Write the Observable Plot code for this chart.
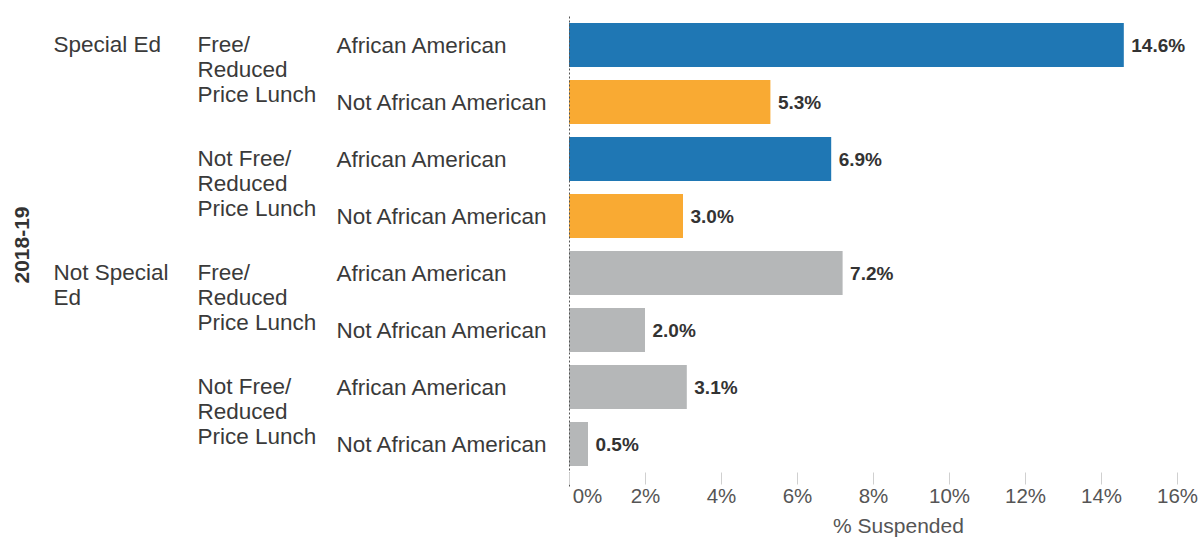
<!DOCTYPE html>
<html>
<head>
<meta charset="utf-8">
<script src="https://cdn.jsdelivr.net/npm/d3@7"></script>
<script src="https://cdn.jsdelivr.net/npm/@observablehq/plot@0.6"></script>
<style>
  html, body { margin: 0; padding: 0; background: #fff; }
  #chart svg { display: block; }
</style>
</head>
<body>
<div id="chart"></div>
<script>
// ---- data ----
const yearLabel = "2018-19";
const specialEd = ["Special Ed", "Special Ed", "Special Ed", "Special Ed",
                   "Not Special Ed", "Not Special Ed", "Not Special Ed", "Not Special Ed"];
const specialEdLabels = ["Special Ed", "Not Special\nEd"];
const lunch = ["Free/Reduced Price Lunch", "Free/Reduced Price Lunch",
               "Not Free/Reduced Price Lunch", "Not Free/Reduced Price Lunch",
               "Free/Reduced Price Lunch", "Free/Reduced Price Lunch",
               "Not Free/Reduced Price Lunch", "Not Free/Reduced Price Lunch"];
const lunchLabels = {
  "Free/Reduced Price Lunch": "Free/\nReduced\nPrice Lunch",
  "Not Free/Reduced Price Lunch": "Not Free/\nReduced\nPrice Lunch"
};
const race = ["African American", "Not African American", "African American", "Not African American",
              "African American", "Not African American", "African American", "Not African American"];
const suspended = [14.6, 5.3, 6.9, 3.0, 7.2, 2.0, 3.1, 0.5];
const xTicks = [0, 2, 4, 6, 8, 10, 12, 14, 16];
const xTickLabels = ["0%", "2%", "4%", "6%", "8%", "10%", "12%", "14%", "16%"];
const xTitle = "% Suspended";

// ---- table ----
const rows = suspended.map((v, i) => ({
  i, value: v, sped: specialEd[i], lunch: lunch[i], race: race[i],
  group: specialEd[i] === "Special Ed" ? race[i] : "Not Special Ed"
}));
const spedRows = rows.filter((d, k) => k === 0 || rows[k - 1].sped !== d.sped)
  .map((d, k) => ({i: d.i, text: specialEdLabels[k]}));
const lunchRows = rows.filter((d, k) => k === 0 || rows[k - 1].lunch !== d.lunch || rows[k - 1].sped !== d.sped)
  .map(d => ({i: d.i, text: lunchLabels[d.lunch]}));
const tickLabel = d => xTickLabels[xTicks.indexOf(d)];

const font = "'Liberation Sans', Arial, sans-serif";
const textColor = "#3a3a3a";
const catSize = 22.5;

const chart = Plot.plot({
  width: 1204,
  height: 541,
  marginLeft: 569,
  marginRight: 27,
  marginTop: 16.5,
  marginBottom: 68.5,
  style: {fontFamily: font, background: "#fff", overflow: "visible"},
  x: {domain: [0, 16], label: null},
  y: {domain: d3.range(rows.length), paddingInner: 0.23, paddingOuter: 0.115, axis: null, label: null},
  color: {
    domain: ["African American", "Not African American", "Not Special Ed"],
    range: ["#1f77b4", "#f9aa33", "#b5b7b8"]
  },
  marks: [
    Plot.barX(rows, {x: "value", y: "i", fill: "group"}),
    Plot.ruleX([0], {stroke: "#555", strokeWidth: 1, strokeDasharray: "2,2", insetBottom: -14}),
    // ticks
    Plot.axisX(xTicks, {tickSize: 12, stroke: "#d0d0d0", tickFormat: () => "", label: null}),
    // tick labels
    Plot.axisX(xTicks.filter(t => t > 0), {tickSize: 12, stroke: "none", tickPadding: 3,
      tickFormat: tickLabel, fill: "#555", fontSize: 20.5, label: null}),
    Plot.axisX(xTicks.filter(t => t === 0), {tickSize: 12, stroke: "none", tickPadding: 3, dx: 18,
      tickFormat: tickLabel, fill: "#555", fontSize: 20.5, label: null}),
    Plot.text([xTitle], {frameAnchor: "bottom", dy: 60, dx: 25, fill: "#555", fontSize: 21}),
    // value labels
    Plot.text(rows, {x: "value", y: "i", text: d => d.value.toFixed(1) + "%", textAnchor: "start",
      dx: 7, fontWeight: "bold", fill: "#333", fontSize: 19}),
    // race labels
    Plot.text(rows, {y: "i", text: "race", frameAnchor: "left", textAnchor: "start", dx: -233,
      fill: textColor, fontSize: catSize}),
    // lunch labels
    Plot.text(lunchRows, {y: "i", text: "text", frameAnchor: "left", textAnchor: "start", dx: -372,
      lineAnchor: "top", dy: -11, lineHeight: 1.11, fill: textColor, fontSize: catSize}),
    // special ed labels
    Plot.text(spedRows, {y: "i", text: "text", frameAnchor: "left", textAnchor: "start", dx: -516,
      lineAnchor: "top", dy: -11, lineHeight: 1.11, fill: textColor, fontSize: catSize}),
    // year label
    Plot.text([yearLabel], {frameAnchor: "left", textAnchor: "middle", dx: -547, rotate: -90,
      fontWeight: "bold", fill: "#333", fontSize: 21})
  ]
});
document.getElementById("chart").append(chart);
</script>
</body>
</html>
